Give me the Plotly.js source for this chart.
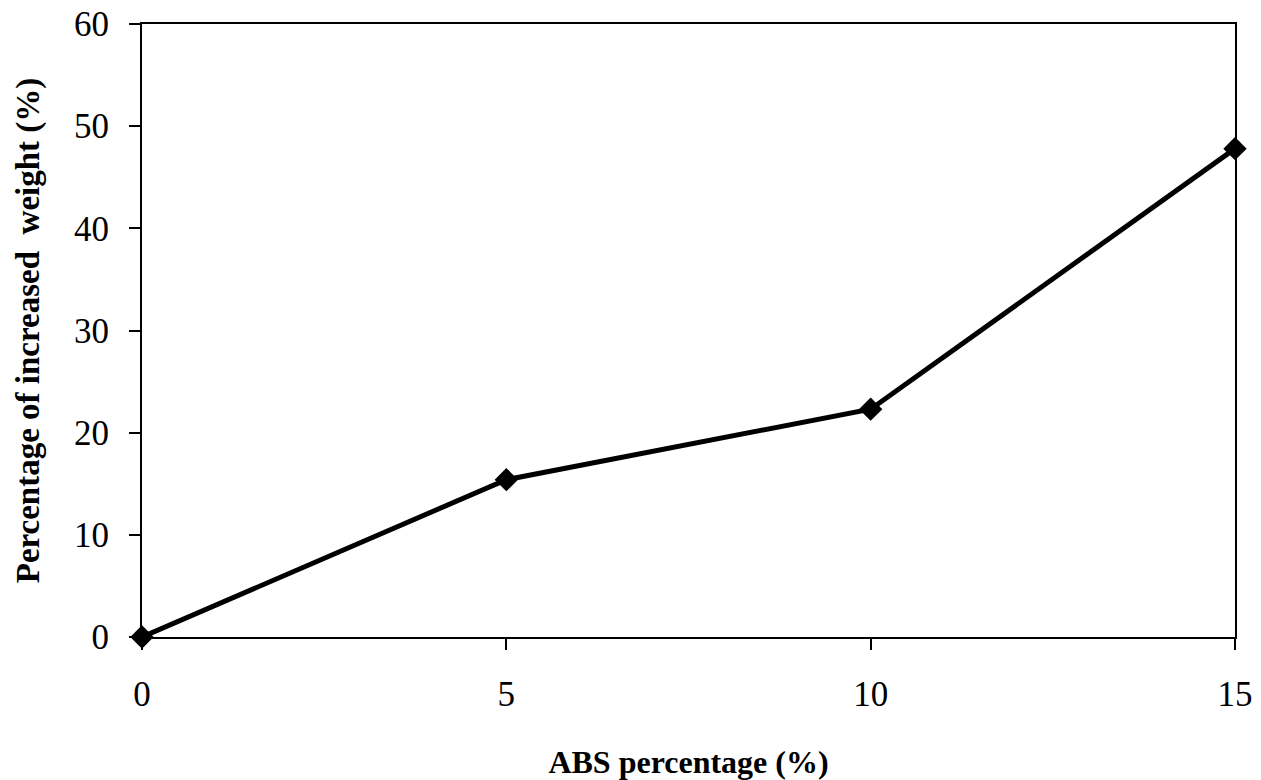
<!DOCTYPE html>
<html>
<head>
<meta charset="utf-8">
<script src="https://cdn.plot.ly/plotly-3.0.1.min.js"></script>
<style>html,body{margin:0;padding:0;background:#fff;}#chart{width:1261px;height:780px;}</style>
</head>
<body>
<div id="chart"></div>
<script>
const absPercent = [0, 5, 10, 15];
const weightIncrease = [0, 15.4, 22.3, 47.8];
const xTicks = [0, 5, 10, 15];
const yTicks = [0, 10, 20, 30, 40, 50, 60];

const trace = {
  x: absPercent,
  y: weightIncrease,
  type: 'scatter',
  mode: 'lines+markers',
  line: {color: '#000', width: 5},
  marker: {symbol: 'diamond', size: 18, color: '#000'},
  cliponaxis: false,
  showlegend: false
};

const layout = {
  width: 1261, height: 780,
  margin: {l: 142, r: 26, t: 24, b: 143},
  paper_bgcolor: '#fff', plot_bgcolor: '#fff',
  font: {family: '"Liberation Serif", "Times New Roman", serif', color: '#000'},
  xaxis: {
    range: [0, 15], tickvals: xTicks, ticktext: xTicks.map(String),
    showgrid: false, zeroline: false,
    showline: true, linecolor: '#000', linewidth: 2, mirror: true,
    ticks: 'outside', ticklen: 11, tickwidth: 2, tickcolor: '#000',
    tickfont: {size: 35}, ticklabelstandoff: 14,
    automargin: false,
    title: {text: '<b>ABS percentage (%)</b>', font: {size: 32}, standoff: 38}
  },
  yaxis: {
    range: [0, 60], tickvals: yTicks, ticktext: yTicks.map(String),
    showgrid: false, zeroline: false,
    showline: true, linecolor: '#000', linewidth: 2, mirror: true,
    ticks: 'outside', ticklen: 11, tickwidth: 2, tickcolor: '#000',
    tickfont: {size: 35}, ticklabelstandoff: 13,
    automargin: 'left',
    title: {text: '<b>Percentage of increased  weight (%)</b>', font: {size: 33}, standoff: 24}
  }
};

Plotly.newPlot('chart', [trace], layout, {displayModeBar: false, staticPlot: true});
</script>
</body>
</html>
